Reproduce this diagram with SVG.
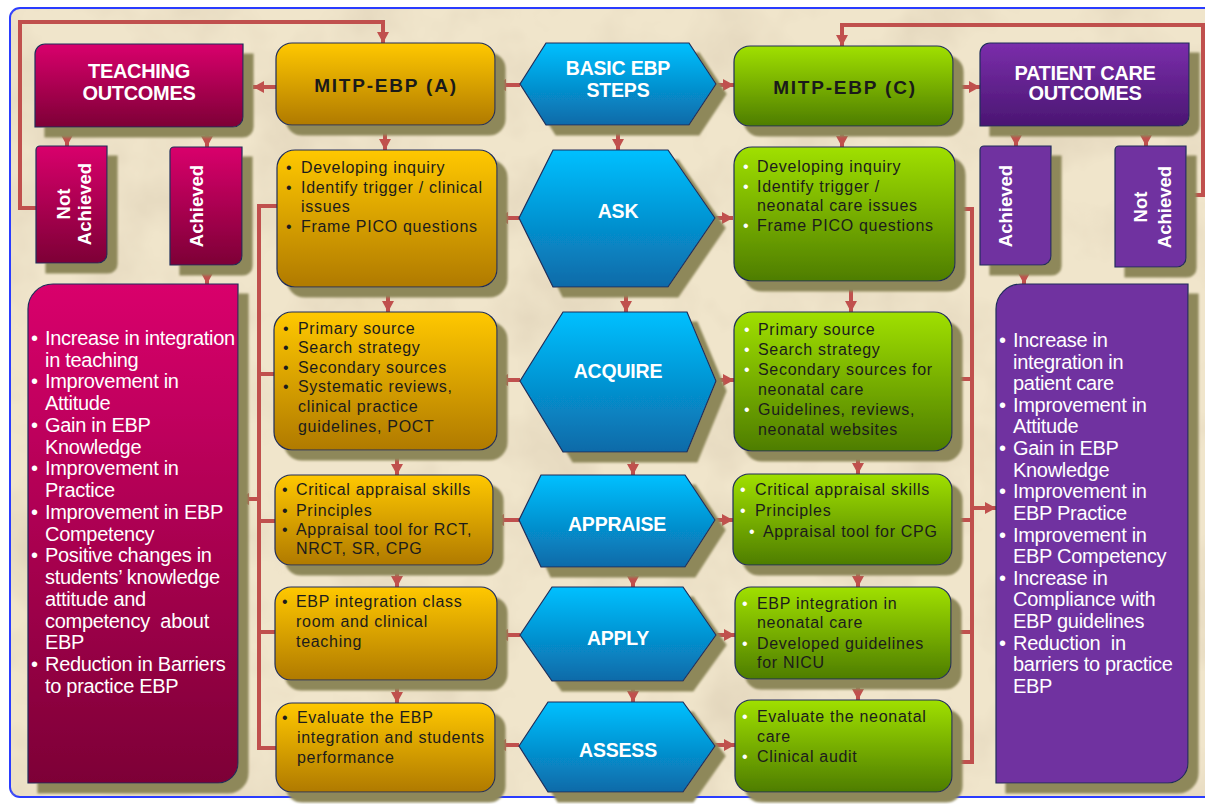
<svg xmlns="http://www.w3.org/2000/svg" width="1205" height="804" viewBox="0 0 1205 804">
<defs>
<style>
.hd{font-family:"Liberation Sans",Arial,sans-serif;font-weight:bold;fill:#fff;font-size:20px;text-anchor:middle;letter-spacing:-0.3px}
.vt{font-family:"Liberation Sans",Arial,sans-serif;font-weight:bold;fill:#fff;font-size:18.5px;text-anchor:middle}
.mt{font-family:"Liberation Sans",Arial,sans-serif;font-weight:bold;fill:#1a1a1a;font-size:19px;text-anchor:middle;letter-spacing:1.8px}
.hx{font-family:"Liberation Sans",Arial,sans-serif;font-weight:bold;fill:#fff;font-size:19.5px;text-anchor:middle;letter-spacing:-0.2px}
.bt{font-family:"Liberation Sans",Arial,sans-serif;fill:#1c1c1c;font-size:16px;letter-spacing:0.7px}
.wb{fill:#fff}
.lt{font-family:"Liberation Sans",Arial,sans-serif;fill:#fff;font-size:20px;letter-spacing:-0.3px}
.bx{stroke:#1f2d5a;stroke-width:1.2;filter:url(#sh)}
.cn{fill:none;stroke:#c0504d;stroke-width:4}
.ar{marker-end:url(#ah)}
</style>
<linearGradient id="gTeach" x1="0" y1="0" x2="0" y2="1"><stop offset="0" stop-color="#d9006c"/><stop offset="1" stop-color="#7d0036"/></linearGradient>
<linearGradient id="gPat" x1="0" y1="0" x2="0" y2="1"><stop offset="0" stop-color="#7b2eab"/><stop offset="1" stop-color="#4a1672"/></linearGradient>
<linearGradient id="gOr" x1="0" y1="0" x2="0" y2="1"><stop offset="0" stop-color="#ffc800"/><stop offset="1" stop-color="#b07a00"/></linearGradient>
<linearGradient id="gGr" x1="0" y1="0" x2="0" y2="1"><stop offset="0" stop-color="#a0e000"/><stop offset="1" stop-color="#4e7d00"/></linearGradient>
<linearGradient id="gBl" x1="0" y1="0" x2="0" y2="1"><stop offset="0" stop-color="#00c0ff"/><stop offset="1" stop-color="#0a6aa8"/></linearGradient>
<filter id="sh" x="-10%" y="-10%" width="130%" height="130%">
<feGaussianBlur in="SourceAlpha" stdDeviation="0.8"/>
<feOffset dx="10" dy="10" result="o"/>
<feFlood flood-color="#8e885a"/>
<feComposite in2="o" operator="in"/>
<feMerge><feMergeNode/><feMergeNode in="SourceGraphic"/></feMerge>
</filter>
<filter id="paper" x="0" y="0" width="100%" height="100%">
<feTurbulence type="fractalNoise" baseFrequency="0.012" numOctaves="4" seed="3"/>
<feColorMatrix type="matrix" values="0 0 0 0 0.62  0 0 0 0 0.52  0 0 0 0 0.38  0.8 0 0 0 -0.35"/>
</filter>
<marker id="ah" markerUnits="userSpaceOnUse" markerWidth="11" markerHeight="12" refX="11" refY="6" orient="auto"><path d="M0,0 L11,6 L0,12 Z" fill="#c0504d"/></marker>
</defs>
<rect width="1205" height="804" fill="#ffffff"/>
<rect x="10" y="8" width="1210" height="789" rx="10" fill="#f0e5cb" stroke="#2a3cff" stroke-width="2"/>
<rect x="11" y="9" width="1194" height="787" filter="url(#paper)"/>

<g id="connectors">
<path class="cn ar" d="M36,208 H20 V22 H383 V43"/>
<path class="cn ar" d="M1186,195 H1203 V25 H842 V46"/>
<path class="cn ar" d="M276,87 H253"/>
<path class="cn ar" d="M520,85 H495"/>
<path class="cn ar" d="M716,85 H734"/>
<path class="cn ar" d="M953,87 H980"/>
<path class="cn ar" d="M67,127 V146"/>
<path class="cn ar" d="M207,127 V147"/>
<path class="cn ar" d="M1016,126 V146"/>
<path class="cn ar" d="M1146,126 V146"/>
<path class="cn ar" d="M207,265 V284"/>
<path class="cn ar" d="M1024,265 V284"/>
<path class="cn ar" d="M385,125 V150"/>
<path class="cn ar" d="M618,125 V150"/>
<path class="cn ar" d="M842,126 V147"/>
<path class="cn ar" d="M388,287 V312"/>
<path class="cn ar" d="M626,287 V312"/>
<path class="cn ar" d="M851,281 V312"/>
<path class="cn ar" d="M397,450 V475"/>
<path class="cn ar" d="M633,452 V475"/>
<path class="cn ar" d="M858,451 V474"/>
<path class="cn ar" d="M397,565 V587"/>
<path class="cn ar" d="M633,567 V587"/>
<path class="cn ar" d="M858,565 V587"/>
<path class="cn ar" d="M397,680 V703"/>
<path class="cn ar" d="M633,681 V702"/>
<path class="cn ar" d="M858,679 V700"/>
<path class="cn ar" d="M519,218 H497"/>
<path class="cn ar" d="M520,380 H497"/>
<path class="cn ar" d="M519,520 H493"/>
<path class="cn ar" d="M520,635 H497"/>
<path class="cn ar" d="M519,745 H495"/>
<path class="cn ar" d="M715,218 H733"/>
<path class="cn ar" d="M716,380 H734"/>
<path class="cn ar" d="M715,520 H733"/>
<path class="cn ar" d="M716,635 H735"/>
<path class="cn ar" d="M715,745 H735"/>
<path class="cn" d="M277,206 H259 V748 H276 M259,374 H274 M259,521 H275 M259,632 H275"/>
<path class="cn ar" d="M259,499 H238"/>
<path class="cn" d="M955,209 H972 V762 H952 M952,379 H972 M952,520 H972 M951,632 H972"/>
<path class="cn ar" d="M972,508 H996"/>
</g>

<g id="teaching-outcomes">
<path class="bx" fill="url(#gTeach)" d="M45,44 L243,44 L243,117 A10,10 0 0 1 233,127 L35,127 L35,54 A10,10 0 0 1 45,44 Z"/>
<text class="hd" x="139" y="78">TEACHING</text>
<text class="hd" x="139" y="100">OUTCOMES</text>
</g>
<g id="mitp-a">
<rect class="bx" fill="url(#gOr)" x="276" y="43" width="219" height="82" rx="16"/>
<text class="mt" x="386" y="92">MITP-EBP (A)</text>
</g>
<g id="basic-steps">
<polygon class="bx" fill="url(#gBl)" points="520,84 546,43 689,43 716,84 689,125 546,125"/>
<text class="hx" x="618" y="75">BASIC EBP</text>
<text class="hx" x="618" y="97">STEPS</text>
</g>
<g id="mitp-c">
<rect class="bx" fill="url(#gGr)" x="734" y="46" width="219" height="80" rx="16"/>
<text class="mt" x="845" y="94">MITP-EBP (C)</text>
</g>
<g id="patient-outcomes">
<path class="bx" fill="url(#gPat)" d="M990,43 L1189,43 L1189,116 A10,10 0 0 1 1179,126 L980,126 L980,53 A10,10 0 0 1 990,43 Z"/>
<text class="hd" x="1085" y="80">PATIENT CARE</text>
<text class="hd" x="1085" y="100">OUTCOMES</text>
</g>

<g id="teach-not-achieved">
<path class="bx" fill="url(#gTeach)" d="M40,146 L107,146 L107,254 A9,9 0 0 1 98,263 L36,263 L36,150 A4,4 0 0 1 40,146 Z"/>
<text class="vt" transform="translate(70,204) rotate(-90)">Not</text>
<text class="vt" transform="translate(91,204) rotate(-90)">Achieved</text>
</g>
<g id="teach-achieved">
<path class="bx" fill="url(#gTeach)" d="M174,147 L242,147 L242,256 A9,9 0 0 1 233,265 L170,265 L170,151 A4,4 0 0 1 174,147 Z"/>
<text class="vt" transform="translate(203,206) rotate(-90)">Achieved</text>
</g>
<g id="pat-achieved">
<path class="bx" fill="#7030a0" d="M984,146 L1051,146 L1051,256 A9,9 0 0 1 1042,265 L980,265 L980,150 A4,4 0 0 1 984,146 Z"/>
<text class="vt" transform="translate(1012,206) rotate(-90)">Achieved</text>
</g>
<g id="pat-not-achieved">
<path class="bx" fill="#7030a0" d="M1119,146 L1186,146 L1186,258 A9,9 0 0 1 1177,267 L1115,267 L1115,150 A4,4 0 0 1 1119,146 Z"/>
<text class="vt" transform="translate(1147,207) rotate(-90)">Not</text>
<text class="vt" transform="translate(1171,207) rotate(-90)">Achieved</text>
</g>

<g id="teaching-list">
<path class="bx" fill="url(#gTeach)" d="M53,284 L238,284 L238,763 A20,20 0 0 1 218,783 L28,783 L28,309 A25,25 0 0 1 53,284 Z"/>
<text class="lt">
<tspan x="31" y="345">•</tspan><tspan x="45" y="345">Increase in integration</tspan>
<tspan x="45" y="367">in teaching</tspan>
<tspan x="31" y="388">•</tspan><tspan x="45" y="388">Improvement in</tspan>
<tspan x="45" y="410">Attitude</tspan>
<tspan x="31" y="432">•</tspan><tspan x="45" y="432">Gain in EBP</tspan>
<tspan x="45" y="454">Knowledge</tspan>
<tspan x="31" y="475">•</tspan><tspan x="45" y="475">Improvement in</tspan>
<tspan x="45" y="497">Practice</tspan>
<tspan x="31" y="519">•</tspan><tspan x="45" y="519">Improvement in EBP</tspan>
<tspan x="45" y="541">Competency</tspan>
<tspan x="31" y="562">•</tspan><tspan x="45" y="562">Positive changes in</tspan>
<tspan x="45" y="584">students’ knowledge</tspan>
<tspan x="45" y="606">attitude and</tspan>
<tspan x="45" y="628" xml:space="preserve">competency  about</tspan>
<tspan x="45" y="649">EBP</tspan>
<tspan x="31" y="671">•</tspan><tspan x="45" y="671">Reduction in Barriers</tspan>
<tspan x="45" y="693">to practice EBP</tspan>
</text>
</g>

<g id="patient-list">
<path class="bx" fill="#7030a0" d="M1021,284 L1188,284 L1188,763 A20,20 0 0 1 1168,783 L996,783 L996,309 A25,25 0 0 1 1021,284 Z"/>
<text class="lt">
<tspan x="999" y="347">•</tspan><tspan x="1013" y="347">Increase in</tspan>
<tspan x="1013" y="369">integration in</tspan>
<tspan x="1013" y="390">patient care</tspan>
<tspan x="999" y="412">•</tspan><tspan x="1013" y="412">Improvement in</tspan>
<tspan x="1013" y="433">Attitude</tspan>
<tspan x="999" y="455">•</tspan><tspan x="1013" y="455">Gain in EBP</tspan>
<tspan x="1013" y="477">Knowledge</tspan>
<tspan x="999" y="498">•</tspan><tspan x="1013" y="498">Improvement in</tspan>
<tspan x="1013" y="520">EBP Practice</tspan>
<tspan x="999" y="542">•</tspan><tspan x="1013" y="542">Improvement in</tspan>
<tspan x="1013" y="563">EBP Competency</tspan>
<tspan x="999" y="585">•</tspan><tspan x="1013" y="585">Increase in</tspan>
<tspan x="1013" y="606">Compliance with</tspan>
<tspan x="1013" y="628">EBP guidelines</tspan>
<tspan x="999" y="650">•</tspan><tspan x="1013" y="650" xml:space="preserve">Reduction  in</tspan>
<tspan x="1013" y="671">barriers to practice</tspan>
<tspan x="1013" y="693">EBP</tspan>
</text>
</g>

<g id="ask-a">
<rect class="bx" fill="url(#gOr)" x="277" y="150" width="220" height="137" rx="18"/>
<text class="bt">
<tspan x="286" y="173">•</tspan><tspan x="301" y="173">Developing inquiry</tspan>
<tspan x="286" y="193">•</tspan><tspan x="301" y="193">Identify trigger / clinical</tspan>
<tspan x="301" y="212">issues</tspan>
<tspan x="286" y="232">•</tspan><tspan x="301" y="232">Frame PICO questions</tspan>
</text>
</g>
<g id="acquire-a">
<rect class="bx" fill="url(#gOr)" x="274" y="312" width="223" height="138" rx="18"/>
<text class="bt">
<tspan x="283" y="334">•</tspan><tspan x="298" y="334">Primary source</tspan>
<tspan x="283" y="353">•</tspan><tspan x="298" y="353">Search strategy</tspan>
<tspan x="283" y="373">•</tspan><tspan x="298" y="373">Secondary sources</tspan>
<tspan x="283" y="392">•</tspan><tspan x="298" y="392">Systematic reviews,</tspan>
<tspan x="298" y="412">clinical practice</tspan>
<tspan x="298" y="432">guidelines, POCT</tspan>
</text>
</g>
<g id="appraise-a">
<rect class="bx" fill="url(#gOr)" x="275" y="475" width="218" height="90" rx="16"/>
<text class="bt">
<tspan x="282" y="495">•</tspan><tspan x="296" y="495">Critical appraisal skills</tspan>
<tspan x="282" y="516">•</tspan><tspan x="296" y="516">Principles</tspan>
<tspan x="282" y="535">•</tspan><tspan x="296" y="535">Appraisal tool for RCT,</tspan>
<tspan x="296" y="554">NRCT, SR, CPG</tspan>
</text>
</g>
<g id="apply-a">
<rect class="bx" fill="url(#gOr)" x="275" y="587" width="222" height="93" rx="16"/>
<text class="bt">
<tspan x="282" y="607">•</tspan><tspan x="296" y="607">EBP integration class</tspan>
<tspan x="296" y="627">room and clinical</tspan>
<tspan x="296" y="647">teaching</tspan>
</text>
</g>
<g id="assess-a">
<rect class="bx" fill="url(#gOr)" x="276" y="703" width="219" height="89" rx="16"/>
<text class="bt">
<tspan x="282" y="723">•</tspan><tspan x="297" y="723">Evaluate the EBP</tspan>
<tspan x="297" y="743">integration and students</tspan>
<tspan x="297" y="763">performance</tspan>
</text>
</g>

<g id="ask">
<polygon class="bx" fill="url(#gBl)" points="519,218 553,150 668,150 715,218 668,287 553,287"/>
<text class="hx" x="618" y="218">ASK</text>
</g>
<g id="acquire">
<polygon class="bx" fill="url(#gBl)" points="520,381 563,312 687,312 716,381 687,452 563,452"/>
<text class="hx" x="618" y="378">ACQUIRE</text>
</g>
<g id="appraise">
<polygon class="bx" fill="url(#gBl)" points="519,520 541,475 685,475 715,520 685,567 541,567"/>
<text class="hx" x="617" y="531">APPRAISE</text>
</g>
<g id="apply">
<polygon class="bx" fill="url(#gBl)" points="520,635 552,587 683,587 716,635 683,681 552,681"/>
<text class="hx" x="618" y="645">APPLY</text>
</g>
<g id="assess">
<polygon class="bx" fill="url(#gBl)" points="519,746 548,702 683,702 715,746 683,792 548,792"/>
<text class="hx" x="618" y="757">ASSESS</text>
</g>

<g id="ask-c">
<rect class="bx" fill="url(#gGr)" x="734" y="147" width="221" height="134" rx="18"/>
<text class="bt">
<tspan class="wb" x="743" y="172">•</tspan><tspan x="757" y="172">Developing inquiry</tspan>
<tspan class="wb" x="743" y="192">•</tspan><tspan x="757" y="192">Identify trigger /</tspan>
<tspan x="757" y="211">neonatal care issues</tspan>
<tspan class="wb" x="743" y="231">•</tspan><tspan x="757" y="231">Frame PICO questions</tspan>
</text>
</g>
<g id="acquire-c">
<rect class="bx" fill="url(#gGr)" x="734" y="312" width="218" height="139" rx="18"/>
<text class="bt">
<tspan class="wb" x="744" y="335">•</tspan><tspan x="758" y="335">Primary source</tspan>
<tspan class="wb" x="744" y="355">•</tspan><tspan x="758" y="355">Search strategy</tspan>
<tspan class="wb" x="744" y="375">•</tspan><tspan x="758" y="375">Secondary sources for</tspan>
<tspan x="758" y="395">neonatal care</tspan>
<tspan class="wb" x="744" y="415">•</tspan><tspan x="758" y="415">Guidelines, reviews,</tspan>
<tspan x="758" y="435">neonatal websites</tspan>
</text>
</g>
<g id="appraise-c">
<rect class="bx" fill="url(#gGr)" x="733" y="474" width="219" height="91" rx="16"/>
<text class="bt">
<tspan class="wb" x="740" y="495">•</tspan><tspan x="755" y="495">Critical appraisal skills</tspan>
<tspan class="wb" x="740" y="516">•</tspan><tspan x="755" y="516">Principles</tspan>
<tspan class="wb" x="749" y="537">•</tspan><tspan x="763" y="537">Appraisal tool for CPG</tspan>
</text>
</g>
<g id="apply-c">
<rect class="bx" fill="url(#gGr)" x="735" y="587" width="216" height="92" rx="16"/>
<text class="bt">
<tspan class="wb" x="742" y="609">•</tspan><tspan x="757" y="609">EBP integration in</tspan>
<tspan x="757" y="628">neonatal care</tspan>
<tspan class="wb" x="742" y="649">•</tspan><tspan x="757" y="649">Developed guidelines</tspan>
<tspan x="757" y="668">for NICU</tspan>
</text>
</g>
<g id="assess-c">
<rect class="bx" fill="url(#gGr)" x="735" y="700" width="217" height="92" rx="16"/>
<text class="bt">
<tspan class="wb" x="742" y="722">•</tspan><tspan x="757" y="722">Evaluate the neonatal</tspan>
<tspan x="757" y="742">care</tspan>
<tspan class="wb" x="742" y="762">•</tspan><tspan x="757" y="762">Clinical audit</tspan>
</text>
</g>
</svg>
